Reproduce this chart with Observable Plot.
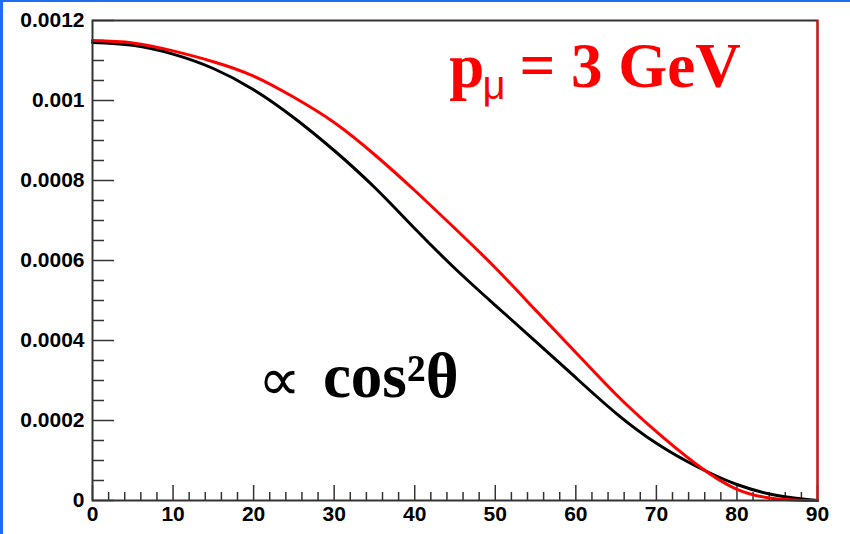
<!DOCTYPE html>
<html>
<head>
<meta charset="utf-8">
<script src="https://cdn.jsdelivr.net/npm/d3@7"></script>
<script src="https://cdn.jsdelivr.net/npm/@observablehq/plot@0.6"></script>
<style>
  html, body { margin: 0; padding: 0; background: #fff; }
  #wrap { position: relative; width: 850px; height: 534px; overflow: hidden; }
  #edgeL { position: absolute; left: 0; top: 0; width: 3px; height: 534px; background: #1f6ef2; }
  #edgeT { position: absolute; left: 0; top: 0; width: 850px; height: 2px; background: #1f6ef2; }
</style>
</head>
<body>
<div id="wrap"><div id="chart"></div><div id="edgeL"></div><div id="edgeT"></div></div>
<script>
// angle (degrees)
const deg = [0, 5, 10, 15, 20, 25, 30, 35, 40, 45, 50, 55, 60, 65, 70, 75, 80, 85, 90];
// black curve (∝ cos²θ)
const blackVals = [0.001145, 0.001138, 0.001116, 0.00108, 0.001027, 0.000957, 0.000875, 0.000783, 0.00068, 0.00058, 0.000488, 0.000398, 0.000307, 0.000218, 0.000143, 0.000085, 0.00004, 0.0000125, 0];
// red curve (p_mu = 3 GeV)
const redVals = [0.00115, 0.001144, 0.001124, 0.001097, 0.001061, 0.001008, 0.000945, 0.000865, 0.000775, 0.00068, 0.000582, 0.000476, 0.00037, 0.000265, 0.000172, 0.00009, 0.000028, 0.000004, 0];

const xTicks = [0, 10, 20, 30, 40, 50, 60, 70, 80, 90];
const xMinor = [2,4,6,8,12,14,16,18,22,24,26,28,32,34,36,38,42,44,46,48,52,54,56,58,62,64,66,68,72,74,76,78,82,84,86,88];
const yTicks = [0, 0.0002, 0.0004, 0.0006, 0.0008, 0.001, 0.0012];
const yTickLabels = ["0", "0.0002", "0.0004", "0.0006", "0.0008", "0.001", "0.0012"];
const yMinor = [0.00005,0.0001,0.00015,0.00025,0.0003,0.00035,0.00045,0.0005,0.00055,0.00065,0.0007,0.00075,0.00085,0.0009,0.00095,0.00105,0.0011,0.00115];

// annotations (data coordinates)
const labelP = [{text: "p", x: 44.3, y: 0.001035}];
const labelMu = [{text: "μ", x: 48.4, y: 0.001005}];
const labelGeV = [{text: "= 3 GeV", x: 53.0, y: 0.001035}];
const labelProp = [{text: "∝", x: 23.2, y: 0.0003}];
const labelCos = [{text: "cos²θ", x: 28.6, y: 0.000258}];

const blackData = deg.map((d, i) => ({x: d, y: blackVals[i]}));
const redData = deg.map((d, i) => ({x: d, y: redVals[i]}));

const W = 850, H = 534, ML = 92, MR = 33, MT = 20, MB = 34;
const FW = W - ML - MR, FH = H - MT - MB;
const tickColor = "#333";
const sans = "'Liberation Sans', Arial, Helvetica, sans-serif";
const serif = "'Liberation Serif', 'Times New Roman', serif";

const chart = Plot.plot({
  width: W, height: H,
  marginLeft: ML, marginRight: MR, marginTop: MT, marginBottom: MB,
  style: {background: "#fff", fontFamily: sans, overflow: "visible"},
  x: {domain: [0, 90]},
  y: {domain: [0, 0.0012]},
  marks: [
    // ticks (inward)
    Plot.tickY(yTicks, {y: d => d, stroke: tickColor, strokeWidth: 1.5, insetRight: FW - 22}),
    Plot.tickY(yMinor, {y: d => d, stroke: tickColor, strokeWidth: 1.5, insetRight: FW - 12}),
    Plot.tickX(xTicks, {x: d => d, stroke: tickColor, strokeWidth: 1.5, insetTop: FH - 15}),
    Plot.tickX(xMinor, {x: d => d, stroke: tickColor, strokeWidth: 1.5, insetTop: FH - 8}),
    Plot.axisY({ticks: yTicks, tickSize: 0, tickPadding: 8, tickFormat: d => yTickLabels[yTicks.indexOf(d)], fontSize: 21, fontWeight: "bold", fill: "#000", label: null}),
    Plot.axisX({ticks: xTicks, tickSize: 0, tickPadding: 6, tickFormat: d => String(d), fontSize: 21, fontWeight: "bold", fill: "#000", label: null}),
    // curves
    Plot.line(blackData, {x: "x", y: "y", stroke: "#000", strokeWidth: 3, curve: "natural"}),
    Plot.line(redData, {x: "x", y: "y", stroke: "#ff0000", strokeWidth: 3, curve: "natural"}),
    Plot.frame({stroke: "#333", strokeWidth: 2}),
    Plot.ruleX([90], {stroke: "#ff0000", strokeWidth: 2}),
    // annotations
    Plot.text(labelP, {x: "x", y: "y", text: "text", textAnchor: "start", lineAnchor: "bottom", fill: "#ff0000", fontSize: 63, fontWeight: "bold", fontFamily: serif}),
    Plot.text(labelMu, {x: "x", y: "y", text: "text", textAnchor: "start", lineAnchor: "bottom", fill: "#ff0000", fontSize: 40, fontFamily: sans}),
    Plot.text(labelGeV, {x: "x", y: "y", text: "text", textAnchor: "start", lineAnchor: "bottom", fill: "#ff0000", fontSize: 63, fontWeight: "bold", fontFamily: serif}),
    Plot.text(labelProp, {x: "x", y: "y", text: "text", textAnchor: "middle", lineAnchor: "middle", fill: "#000", fontSize: 60, fontFamily: serif}),
    Plot.text(labelCos, {x: "x", y: "y", text: "text", textAnchor: "start", lineAnchor: "bottom", fill: "#000", fontSize: 63, fontWeight: "bold", fontFamily: serif})
  ]
});
document.getElementById("chart").appendChild(chart);
</script>
</body>
</html>
